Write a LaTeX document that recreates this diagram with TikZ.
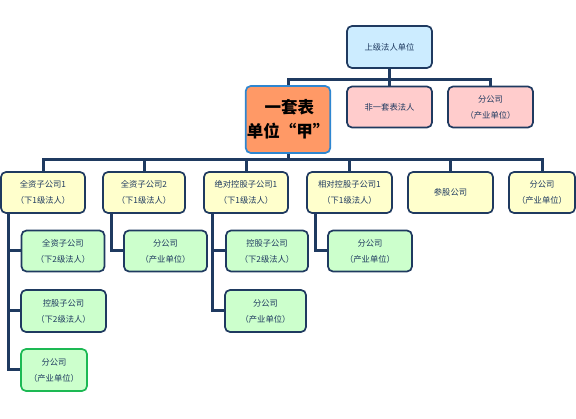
\documentclass[tikz,border=0pt]{standalone}
\usepackage{fontspec}
\newfontfamily\cjk{Noto Sans CJK SC}
\usepackage{tikz}
\usetikzlibrary{positioning, calc}
\definecolor{lineNavy}{HTML}{1F3A60}
\definecolor{txtNavy}{HTML}{1F3A60}
\definecolor{fillBlue}{HTML}{CCECFF}
\definecolor{fillPink}{HTML}{FFCCCC}
\definecolor{fillOrange}{HTML}{FF9966}
\definecolor{edgeBlue}{HTML}{2E86D0}
\definecolor{fillYellow}{HTML}{FFFFCC}
\definecolor{fillGreen}{HTML}{CCFFCC}
\definecolor{edgeGreen}{HTML}{1DB954}

\begin{document}
\begin{tikzpicture}[x=1pt, y=-1pt,
  unit/.style={draw=lineNavy, line width=1.7pt, rounded corners=5pt,
               minimum width=84pt, minimum height=41pt, inner sep=1pt,
               font=\cjk\fontsize{8.3}{16}\selectfont, text=txtNavy, align=center},
  legal/.style={unit, fill=fillYellow},
  sub/.style={unit, fill=fillGreen, minimum width=83pt},
  conn/.style={draw=lineNavy, line width=3pt}
]
\useasboundingbox[fill=white] (0,0) rectangle (576,419);

\node[unit, fill=fillBlue, minimum width=85pt, minimum height=42pt] (top) at (389.5,47) {上级法人单位};
\node[unit, fill=fillOrange, draw=edgeBlue, minimum height=67pt,
      font=\cjk\bfseries\fontsize{16.5}{24}\selectfont, text=black] (jia) at (288,119.5) {\raisebox{-3pt}{\,一套表}\\\raisebox{-3pt}{单位“甲”}};
\node[unit, fill=fillPink, minimum width=85pt] (nonlegal) at (389.5,107) {非一套表法人};
\node[unit, fill=fillPink, minimum width=85pt] (branchA) at (490.5,107) {分公司\\（产业单位）};

\node[legal] (whole1) at (43,192.5) {全资子公司1\\（下1级法人）};
\node[legal, minimum width=82pt] (whole2) at (144,192.5) {全资子公司2\\（下1级法人）};
\node[legal] (abs1) at (246,192.5) {绝对控股子公司1\\（下1级法人）};
\node[legal, minimum width=85pt] (rel1) at (349.5,192.5) {相对控股子公司1\\（下1级法人）};
\node[legal, minimum width=85pt] (share) at (450.5,192.5) {参股公司};
\node[legal, minimum width=66pt] (branchB) at (542,192.5) {分公司\\（产业单位）};

\node[sub] (whole1a) at (63,251) {全资子公司\\（下2级法人）};
\node[sub] (whole2a) at (165.5,251) {分公司\\（产业单位）};
\node[sub, minimum width=82pt] (abs1a) at (267,251) {控股子公司\\（下2级法人）};
\node[sub, minimum width=84pt] (rel1a) at (370,251) {分公司\\（产业单位）};
\node[sub, minimum width=85pt, minimum height=42pt] (whole1b) at (63.5,311) {控股子公司\\（下2级法人）};
\node[sub, minimum width=81pt, minimum height=42pt] (abs1b) at (265.5,311) {分公司\\（产业单位）};
\node[sub, draw=edgeGreen, minimum width=66pt, minimum height=42pt] (whole1c) at (54,370) {分公司\\（产业单位）};

\coordinate (bus1) at (389.5,80);
\coordinate (bus2) at (288,160);

\draw[conn] (top.south) -- (nonlegal.north);
\draw[conn] (jia.north) |- (bus1) -| (branchA.north);
\draw[conn] (jia.south) -- (bus2);
\draw[conn] (whole1.north) |- (bus2) -| (branchB.north);
\draw[conn] (whole2.north) -- (whole2.north |- bus2);
\draw[conn] (abs1.north) -- (abs1.north |- bus2);
\draw[conn] (rel1.north) -- (rel1.north |- bus2);
\draw[conn] (share.north) -- (share.north |- bus2);

\draw[conn] ($(whole1.south west)+(8,0)$) |- (whole1c.west);
\draw[conn] ($(whole1.south west)+(8,0)$) |- (whole1a.west);
\draw[conn] ($(whole1.south west)+(8,0)$) |- (whole1b.west);
\draw[conn] ($(whole2.south west)+(9,0)$) |- (whole2a.west);
\draw[conn] ($(abs1.south west)+(9,0)$) |- (abs1b.west);
\draw[conn] ($(abs1.south west)+(9,0)$) |- (abs1a.west);
\draw[conn] ($(rel1.south west)+(9,0)$) |- (rel1a.west);
\end{tikzpicture}
\end{document}
